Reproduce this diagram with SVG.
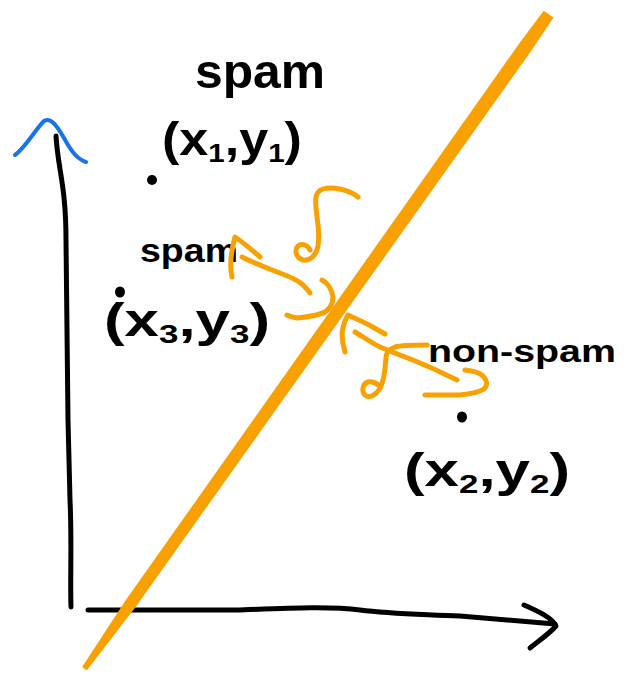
<svg xmlns="http://www.w3.org/2000/svg" width="628" height="675" viewBox="0 0 628 675">
  <style>
    .ink { fill: none; stroke: #000; stroke-width: 5; stroke-linecap: round; stroke-linejoin: round; }
    .orange { fill: none; stroke: #F9A102; stroke-width: 5; stroke-linecap: round; stroke-linejoin: round; }
    .blue { fill: none; stroke: #1874E8; stroke-width: 4; stroke-linecap: round; stroke-linejoin: round; }
    .dot { fill: #000; }
    .hand { font-family: "Liberation Sans", "DejaVu Sans", sans-serif; font-weight: bold; fill: #000; }
  </style>
  <rect width="628" height="675" fill="#fff"/>

  <g id="axes">
    <path class="ink" d="M56,136 C58,170 66,185 66,240 L68,420 L70,500 C72,540 70,580 71,607"/>
    <path class="ink" d="M88,610 L240,610 C290,608 330,606 360,610 C390,614 420,614 460,616 L555,624"/>
    <path class="ink" d="M524,605 C540,612 552,618 556,626 C550,633 540,640 530,648"/>
    <path class="blue" d="M15,155 C25,148 35,130 44,121 C51,117 57,126 64,138 C71,151 77,159 86,162"/>
  </g>

  <g id="separator">
    <polygon fill="#F9A102" stroke="#F9A102" stroke-width="2" stroke-linejoin="round"
      points="83.4,666.8 127.2,599.8 520,44.2 543.9,12.1 552.1,17.9 529.8,51.2 135.4,605.6 86.6,669.2"/>
  </g>

  <g id="point1">
    <ellipse class="dot" cx="152" cy="180" rx="5" ry="5"/>
    <text class="hand" x="195" y="88" font-size="48" textLength="130" lengthAdjust="spacingAndGlyphs">spam</text>
    <text class="hand" x="162" y="155" font-size="46" textLength="140" lengthAdjust="spacingAndGlyphs">(x<tspan font-size="26" dy="7">1</tspan><tspan dy="-7">,y</tspan><tspan font-size="26" dy="7">1</tspan><tspan dy="-7">)</tspan></text>
  </g>

  <g id="point3">
    <ellipse class="dot" cx="120" cy="292" rx="5" ry="5.5"/>
    <text class="hand" x="140" y="262" font-size="33" textLength="98" lengthAdjust="spacingAndGlyphs">spam</text>
    <text class="hand" x="104" y="336" font-size="46" textLength="166" lengthAdjust="spacingAndGlyphs">(x<tspan font-size="26" dy="7">3</tspan><tspan dy="-7">,y</tspan><tspan font-size="26" dy="7">3</tspan><tspan dy="-7">)</tspan></text>
  </g>

  <g id="point2">
    <ellipse class="dot" cx="462" cy="417" rx="5" ry="5.5"/>
    <text class="hand" x="428" y="362" font-size="31" textLength="188" lengthAdjust="spacingAndGlyphs">non-spam</text>
    <text class="hand" x="404" y="486" font-size="46" textLength="166" lengthAdjust="spacingAndGlyphs">(x<tspan font-size="26" dy="7">2</tspan><tspan dy="-7">,y</tspan><tspan font-size="26" dy="7">2</tspan><tspan dy="-7">)</tspan></text>
  </g>

  <g id="margins">
    <!-- upper delta -->
    <path class="orange" d="M358,197 C350,190 332,186 323,189 C314,192 315,200 317,217 C319,230 319,240 318,246 C316,256 310,261 303,260 C296,258 294,250 298,246 C302,243 308,245 310,250"/>
    <!-- upper arrow toward spam -->
    <path class="orange" d="M232,277 C230,268 230,255 235,237 C244,243 252,250 260,257"/>
    <path class="orange" d="M242,257 C252,262 262,266 272,270 C285,275 295,278 302,284 C306,288 309,291 310,293"/>
    <path class="orange" d="M322,280 C328,283 332,290 333,297 C333,303 331,308 325,312 C318,316 306,317 297,318 C292,317 289,316 287,315"/>
    <!-- lower delta -->
    <path class="orange" d="M427,345 C415,345 402,345 395,347 C389,349 386,352 386,358 C385,366 385,373 383,380 C381,388 379,392 372,396 C366,398 362,394 363,388 C364,383 368,381 372,382 C376,383 379,385 380,387"/>
    <!-- lower arrow toward non-spam -->
    <path class="orange" d="M345,352 C343,346 342,338 342,333 C343,326 345,320 348,315 C360,320 372,326 385,334"/>
    <path class="orange" d="M355,332 C365,338 372,343 380,347 C392,352 402,356 413,360 C430,367 445,374 457,380"/>
    <path class="orange" d="M465,370 C473,371 480,373 483,376 C487,380 488,385 484,389 C478,393 470,394 460,395 C448,395 435,395 425,395"/>
  </g>
</svg>
